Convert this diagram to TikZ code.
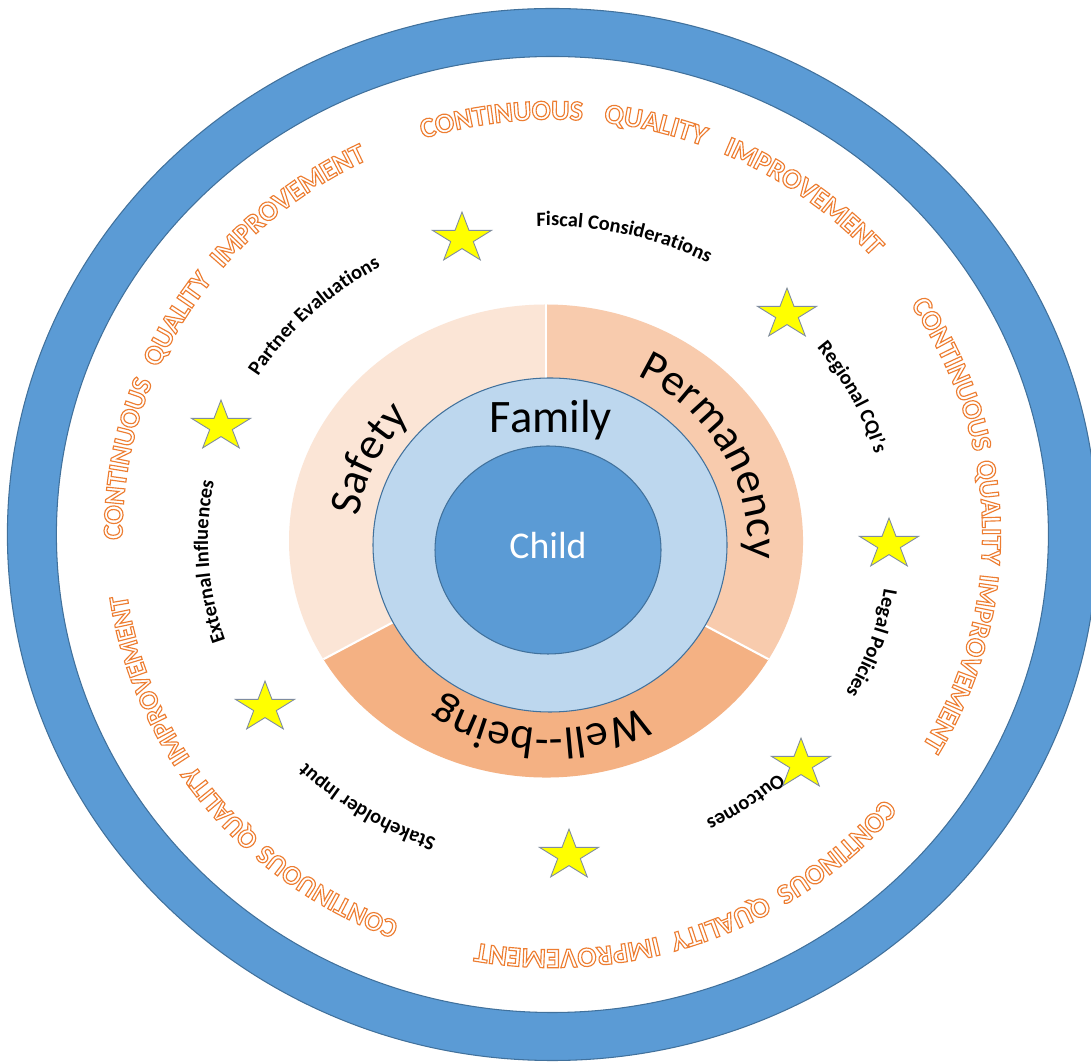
\documentclass[tikz,border=0pt]{standalone}
\usepackage{fontspec}
\setmainfont{Carlito}
\usetikzlibrary{decorations.text,shapes.geometric}
\definecolor{ringblue}{HTML}{5B9BD5}
\definecolor{edgeblue}{HTML}{41719C}
\definecolor{famblue}{HTML}{BDD7EE}
\definecolor{safetyc}{HTML}{FBE5D6}
\definecolor{permc}{HTML}{F8CBAD}
\definecolor{wellc}{HTML}{F4B183}
\definecolor{cqiorange}{HTML}{ED7D31}
\definecolor{staredge}{HTML}{7F8CA0}
\definecolor{staryellow}{HTML}{FFFF00}
\newcommand\olon{\special{pdf:literal direct 1 Tr 0.65 w}}
\newcommand\cqifont{\fontsize{16}{18}\selectfont\bfseries\color{cqiorange}\olon}
\newcommand\cqifontsm{\fontsize{15.4}{18}\selectfont\bfseries\color{cqiorange}\olon}
\newcommand\lblfont{\fontsize{11.6}{13}\selectfont\bfseries\color{black}}
\newcommand\secfont{\fontsize{25.5}{28}\selectfont\color{black}}
\newcommand\starat[3]{%
  \begin{scope}[shift={(#2,#3)},yscale=0.85]
    \node[yellowstar,transform shape] (#1) at (0,0) {};
  \end{scope}}
\begin{document}
\begin{tikzpicture}[x=0.02cm,y=0.02cm,
  yellowstar/.style={star,star points=5,star point ratio=2.618,fill=staryellow,draw=staredge,line width=0.5pt,inner sep=0pt,minimum size=35.4pt},
  ringedge/.style={draw=edgeblue,line width=0.6pt},
  arctext/.style={decorate,decoration={text along path,text align=center,#1}},
  cqitext/.style={decorate,decoration={text along path,text align=fit to path stretching spaces,#1}}
]
\useasboundingbox (0,0) rectangle (1091,1061);
\begin{scope}
\clip (0,0) rectangle (1091,1061);
\fill[white] (0,0) rectangle (1091,1061);
% outer ring
\fill[ringblue,even odd rule] (552.4,526.5) ellipse [x radius=545,y radius=526]
   (552.4,526.5) ellipse [x radius=496,y radius=478];
\draw[ringedge] (552.4,526.5) ellipse [x radius=545,y radius=526];
\draw[ringedge] (552.4,526.5) ellipse [x radius=496,y radius=478];
\end{scope}
% sectors
\begin{scope}[shift={(546,520)}]
\fill[safetyc] (0,0) -- (90:257 and 236.5) arc[start angle=90,end angle=210,x radius=257,y radius=236.5] -- cycle;
\fill[permc] (0,0) -- (-30:257 and 236.5) arc[start angle=-30,end angle=90,x radius=257,y radius=236.5] -- cycle;
\fill[wellc] (0,0) -- (210:257 and 236.5) arc[start angle=210,end angle=330,x radius=257,y radius=236.5] -- cycle;
\foreach \a in {90,210,330} \draw[white,line width=1.2pt] (0,0) -- (\a:257 and 236.5);
\end{scope}
% family and child
\draw[fill=famblue,ringedge] (550,516) ellipse [x radius=177,y radius=167];
\draw[fill=ringblue,ringedge] (548,511) ellipse [x radius=113,y radius=104];
\node[font=\fontsize{26.5}{30}\selectfont,anchor=base,inner sep=0pt] (family) at (551,628) {Family};
\node[font=\fontsize{21.5}{24}\selectfont,text=white,anchor=base,inner sep=0pt] (child) at (548,502) {Child};
% section labels
\begin{scope}[shift={(550,516)}]
\path[arctext={text={|\secfont|Safety}}] (190:194 and 184) arc[start angle=190,end angle=118,x radius=194,y radius=184];
\path[arctext={text={|\secfont|Permanency}}] (84:198 and 188) arc[start angle=84,end angle=-25,x radius=198,y radius=188];
\path[arctext={text={|\secfont|Well--being}}] (-38:194 and 184) arc[start angle=-38,end angle=-148,x radius=194,y radius=184];
\end{scope}
% small labels
\begin{scope}[shift={(548,520)}]
\path[arctext={text={|\lblfont|Fiscal Considerations}}] (106.75:340 and 315) arc[start angle=106.75,end angle=46.75,x radius=340,y radius=315];
\path[arctext={text={|\lblfont|Regional CQI’s}}] (51.65:340 and 315) arc[start angle=51.65,end angle=1.65,x radius=340,y radius=315];
\path[arctext={text={|\lblfont|Legal Policies}}] (6.45:340 and 315) arc[start angle=6.45,end angle=-43.55,x radius=340,y radius=315];
\path[arctext={text={|\lblfont|Outcomes}}] (-29.55:340 and 315) arc[start angle=-29.55,end angle=-79.55,x radius=340,y radius=315];
\path[arctext={text={|\lblfont|Stakeholder Input}}] (267.35:340 and 315) arc[start angle=267.35,end angle=207.35,x radius=340,y radius=315];
\path[arctext={text={|\lblfont|External Influences}}] (213.7:340 and 315) arc[start angle=213.7,end angle=153.7,x radius=340,y radius=315];
\path[arctext={text={|\lblfont|Partner Evaluations}}] (164.4:340 and 315) arc[start angle=164.4,end angle=104.4,x radius=340,y radius=315];
\end{scope}
% stars
\starat{s1}{462}{822.5}
\starat{s2}{787}{746.5}
\starat{s3}{889}{516.5}
\starat{s4}{801}{296.5}
\starat{s5}{569}{205.5}
\starat{s6}{265}{353.5}
\starat{s7}{221}{634.5}
% outer CQI texts
\begin{scope}[shift={(552.4,526.5)}]
\path[cqitext={text={|\cqifont|CONTINUOUS QUALITY IMPROVEMENT}}] (107.5:430 and 415) arc[start angle=107.5,end angle=42,x radius=430,y radius=415];
\path[cqitext={text={|\cqifont|CONTINUOUS QUALITY IMPROVEMENT}}] (33.6:430 and 415) arc[start angle=33.6,end angle=-30.6,x radius=430,y radius=415];
\path[cqitext={text={|\cqifont|CONTINOUS QUALITY IMPROVEMENT}}] (-39.5:430 and 415) arc[start angle=-39.5,end angle=-100.2,x radius=430,y radius=415];
\path[cqitext={text={|\cqifontsm|CONTINUOUS QUALITY IMPROVEMENT}}] (249.1:430 and 415) arc[start angle=249.1,end angle=188.4,x radius=430,y radius=415];
\path[cqitext={text={|\cqifont|CONTINUOUS QUALITY IMPROVEMENT}}] (180.7:430 and 415) arc[start angle=180.7,end angle=115.5,x radius=430,y radius=415];
\end{scope}
\end{tikzpicture}
\end{document}
